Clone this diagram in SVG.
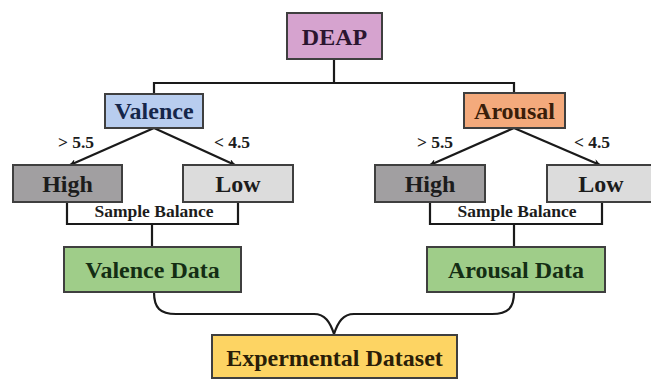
<svg xmlns="http://www.w3.org/2000/svg" width="651" height="380" viewBox="0 0 651 380">
<defs>
<style>
.box{stroke:#3f3f3f;stroke-width:2}
.t{font-family:"Liberation Serif","Times New Roman",serif;font-weight:bold;text-anchor:middle;font-size:24px;fill:#1c1c1c}
.s{font-family:"Liberation Serif","Times New Roman",serif;font-weight:bold;text-anchor:middle;font-size:17.5px;fill:#1c1c1c}
.c{fill:none;stroke:#1a1a1a;stroke-width:2.2}
</style>
<marker id="ah" viewBox="0 0 10 10" refX="9" refY="5" markerWidth="7" markerHeight="7" markerUnits="userSpaceOnUse" orient="auto">
<path d="M0,0 L10,5 L0,10 L3,5 Z" fill="#1a1a1a"/>
</marker>
</defs>
<rect width="651" height="380" fill="#ffffff"/>
<g id="connectors">
<path class="c" d="M334,59 V83 M154,94 V83 H514 V93"/>
<path class="c" d="M154,128 L70,165" marker-end="url(#ah)"/>
<path class="c" d="M154,128 L235,165" marker-end="url(#ah)"/>
<path class="c" d="M514,128 L430,165" marker-end="url(#ah)"/>
<path class="c" d="M514,128 L600,165" marker-end="url(#ah)"/>
<path class="c" d="M67,202 V224 H238 V202 M152,224 V247"/>
<path class="c" d="M430,202 V224 H602 V202 M514,224 V247"/>
<path class="c" d="M154,292 C154,308 160,314 176,314 H314 C325,314 330,322 334,334"/>
<path class="c" d="M514,292 C514,308 508,314 492,314 H354 C343,314 338,322 334,334"/>
<text class="s" x="76" y="148">&gt; 5.5</text>
<text class="s" x="232" y="148">&lt; 4.5</text>
<text class="s" x="435" y="148">&gt; 5.5</text>
<text class="s" x="592" y="148">&lt; 4.5</text>
<text class="s" x="154" y="217">Sample Balance</text>
<text class="s" x="517" y="217">Sample Balance</text>
</g>
<g id="deap">
<rect class="box" x="287" y="13" width="95" height="46" fill="#d6a3cf"/>
<text class="t" x="334.5" y="45" style="fill:#2b1530">DEAP</text>
</g>
<g id="valence">
<rect class="box" x="105" y="94" width="98" height="34" fill="#b8cdef"/>
<text class="t" x="154" y="119" style="fill:#15264a">Valence</text>
</g>
<g id="arousal">
<rect class="box" x="464" y="93" width="101" height="35" fill="#f4aa7c"/>
<text class="t" x="514.5" y="119" style="fill:#3a1e0a">Arousal</text>
</g>
<g id="high-v">
<rect class="box" x="13" y="165" width="109" height="37" fill="#a19fa1"/>
<text class="t" x="67.5" y="192">High</text>
</g>
<g id="low-v">
<rect class="box" x="183" y="165" width="110" height="37" fill="#dcdcdc"/>
<text class="t" x="238" y="192">Low</text>
</g>
<g id="high-a">
<rect class="box" x="375" y="165" width="110" height="37" fill="#a19fa1"/>
<text class="t" x="430" y="192">High</text>
</g>
<g id="low-a">
<rect class="box" x="547" y="165" width="109" height="37" fill="#dcdcdc"/>
<text class="t" x="601" y="192">Low</text>
</g>
<g id="valence-data">
<rect class="box" x="64" y="247" width="177" height="45" fill="#9fcd89"/>
<text class="t" x="152.5" y="278" style="fill:#142e14">Valence Data</text>
</g>
<g id="arousal-data">
<rect class="box" x="427" y="247" width="178" height="45" fill="#9fcd89"/>
<text class="t" x="516" y="278" style="fill:#142e14">Arousal Data</text>
</g>
<g id="dataset">
<rect class="box" x="212" y="335" width="245" height="43" fill="#fdd463"/>
<text class="t" x="334.5" y="366" style="fill:#2a1e08">Expermental Dataset</text>
</g>
</svg>
